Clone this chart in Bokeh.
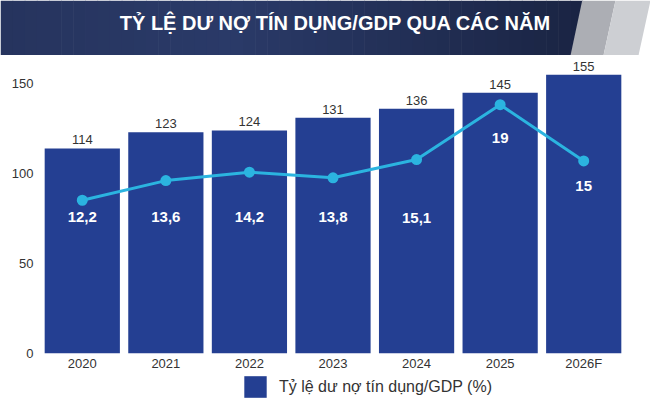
from bokeh.plotting import figure
from bokeh.models import (FactorRange, Range1d, ColumnDataSource, LabelSet,
                          FixedTicker, Legend, LegendItem)
from bokeh.layouts import column
from bokeh.embed import file_html
from bokeh.resources import INLINE
from bokeh.core.properties import value

# ---------------- data ----------------
years = ["2020", "2021", "2022", "2023", "2024", "2025", "2026F"]
credit_gdp = [114, 123, 124, 131, 136, 145, 155]          # bars (%)
credit_growth = [12.2, 13.6, 14.2, 13.8, 15.1, 19, 15]    # line (%)
y_ticks = [0, 50, 100, 150]
title_text = "TỶ LỆ DƯ NỢ TÍN DỤNG/GDP QUA CÁC NĂM"
legend_text = "Tỷ lệ dư nợ tín dụng/GDP (%)"

credit_txt = [str(v) for v in credit_gdp]
growth_txt = [str(v).replace(".", ",") for v in credit_growth]

# ---------------- styles ----------------
FONT = "Liberation Sans"
BAR = "#243f92"
LINE = "#2bb4e0"
TXT = "#333333"
W = 650
label_offsets = [-17, -36, -45, -39, -58, -33, -25]   # px, growth labels


def bare(fig):
    fig.axis.visible = False
    fig.grid.visible = False
    fig.outline_line_color = None


# ---------------- banner ----------------
BH = 55
banner = figure(width=W, height=BH, x_range=Range1d(0, W), y_range=Range1d(0, BH),
                output_backend="svg", toolbar_location=None, min_border=0,
                frame_align=False)
bare(banner)


def lerp(c1, c2, t):
    a = [int(c1[i:i + 2], 16) for i in (1, 3, 5)]
    b = [int(c2[i:i + 2], 16) for i in (1, 3, 5)]
    return "#%02x%02x%02x" % tuple(round(a[k] + (b[k] - a[k]) * t) for k in range(3))


n = 48
x_end = 582.0
lefts, rights, cols = [], [], []
for i in range(n):
    x0 = x_end * i / n
    x1 = x_end * (i + 1) / n + 0.6
    t = (i + 0.5) / n
    if t < 0.4:
        c = lerp("#26345e", "#2a3a68", t / 0.4)
    else:
        c = lerp("#2a3a68", "#1a2443", (t - 0.4) / 0.6)
    lefts.append(x0); rights.append(x1); cols.append(c)
banner.quad(left=lefts, right=rights, bottom=0, top=BH, fill_color=cols, line_color=None)
banner.patch([581.7, 615.0, 603.0, 570.0], [BH, BH, 0, 0], fill_color="#acaeb4", line_color=None)
banner.patch([615.0, 650.0, 638.0, 603.0], [BH, BH, 0, 0], fill_color="#cdcfd3", line_color=None)
banner.text(x=[335], y=[33], text=[title_text], text_font=value(FONT), text_font_style="bold",
            text_font_size="20px", text_color="white", text_align="center", text_baseline="middle")

# ---------------- main chart ----------------
src = ColumnDataSource(dict(year=years, credit=credit_gdp, growth=credit_growth,
                            credit_txt=credit_txt, growth_txt=growth_txt, off=label_offsets))

MH = 318
p = figure(width=W, height=MH, x_range=FactorRange(factors=years),
           y_range=Range1d(0, 164), output_backend="svg", toolbar_location=None,
           min_border_top=3, min_border_left=40, min_border_right=25,
           min_border_bottom=MH - 3 - 295, frame_align=False)
p.extra_y_ranges = {"pct": Range1d(1.293, 22.29)}

bars = p.vbar(x="year", top="credit", width=0.9, source=src, fill_color=BAR, line_color=None)
p.line(x="year", y="growth", y_range_name="pct", source=src, line_color=LINE, line_width=3)
p.scatter(x="year", y="growth", y_range_name="pct", source=src, size=11,
          fill_color=LINE, line_color=None)

p.add_layout(LabelSet(x="year", y="credit", text="credit_txt", source=src, y_offset=4,
                      text_align="center", text_baseline="alphabetic",
                      text_font=value(FONT), text_font_size="13px", text_color=TXT))
p.add_layout(LabelSet(x="year", y="growth", text="growth_txt", source=src, y_range_name="pct",
                      y_offset="off", text_align="center", text_baseline="middle",
                      text_font=value(FONT), text_font_style="bold", text_font_size="15px",
                      text_color="white"))

p.grid.visible = False
p.outline_line_color = None
p.yaxis.ticker = FixedTicker(ticks=y_ticks)
for ax in (p.xaxis, p.yaxis):
    ax.axis_line_color = None
    ax.major_tick_line_color = None
    ax.minor_tick_line_color = None
    ax.major_tick_out = 0
    ax.major_tick_in = 0
    ax.minor_tick_out = 0
    ax.major_label_text_font = FONT
    ax.major_label_text_font_size = "13px"
    ax.major_label_text_color = TXT
p.yaxis.major_label_standoff = 7
p.xaxis.major_label_standoff = 2

# ---------------- legend row ----------------
LH = 406 - BH - MH
lg = figure(width=W, height=LH, x_range=Range1d(0, W), y_range=Range1d(0, LH),
            output_backend="svg", toolbar_location=None, min_border=0, frame_align=False)
bare(lg)
# zero-height stand-in carrying the bar style for the legend swatch
swatch = lg.vbar(x=[0], top=[0], width=1, fill_color=BAR, line_color=None)
legend = Legend(items=[LegendItem(label=legend_text, renderers=[swatch])],
                location=(241, LH - 27), orientation="horizontal",
                glyph_width=28, glyph_height=27, label_standoff=10,
                label_text_font=FONT, label_text_font_size="16px", label_text_color=TXT,
                padding=0, margin=0, spacing=0, border_line_color=None,
                background_fill_alpha=0)
lg.add_layout(legend, "center")

layout = column(banner, p, lg, spacing=0)
open("out.html", "w").write(file_html(layout, INLINE))
